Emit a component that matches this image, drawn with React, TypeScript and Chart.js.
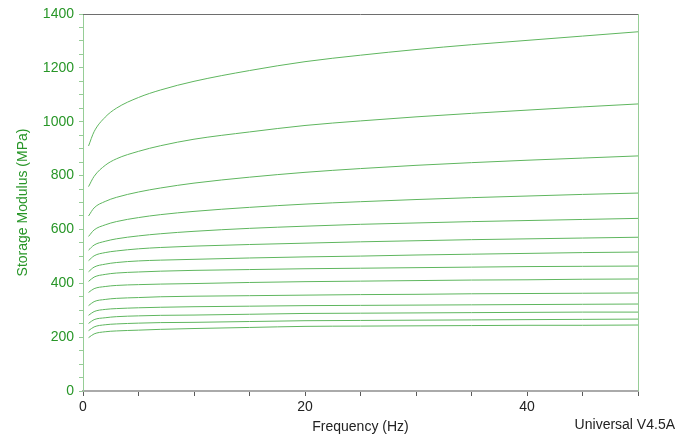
import React, { useEffect, useRef } from "react";
import { Chart, registerables } from "chart.js";

Chart.register(...registerables);

// Frequency (Hz)
const frequencies = [0.5, 1, 2, 3, 5, 7, 10, 15, 20, 25, 30, 35, 40, 45, 50];

// Storage modulus (MPa), one curve per run, top to bottom
const curve1 = [910, 963, 1017, 1050, 1090, 1118, 1150, 1190, 1223, 1247, 1268, 1286, 1302, 1318, 1334];
const curve2 = [759, 797, 838, 862, 890, 911, 935, 962, 986, 1003, 1018, 1031, 1043, 1055, 1066];
const curve3 = [650, 680, 704, 719, 739, 754, 772, 794, 812, 826, 838, 848, 857, 865, 873];
const curve4 = [574, 598, 617, 629, 644, 655, 667, 682, 694, 703, 711, 718, 724, 730, 735];
const curve5 = [523, 542, 556, 565, 576, 584, 593, 604, 612, 619, 624, 629, 633, 637, 641];
const curve6 = [484, 502, 514, 520, 528, 533, 538, 544, 549, 554, 558, 562, 565, 568, 571];
const curve7 = [443, 460, 471, 477, 483, 486, 489, 494, 498, 501, 505, 508, 511, 514, 516];
const curve8 = [407, 423, 433, 438, 442, 445, 448, 451, 454, 456, 458, 460, 462, 463, 464];
const curve9 = [366, 380, 388, 392, 395, 397, 399, 403, 406, 408, 410, 412, 413, 415, 416];
const curve10 = [317, 332, 340, 344, 347, 350, 352, 354, 356, 358, 359, 361, 362, 363, 364];
const curve11 = [281, 295, 303, 306, 309, 311, 313, 315, 317, 318, 319, 320, 321, 322, 323];
const curve12 = [251, 265, 272, 276, 279, 281, 282, 285, 288, 289, 290, 291, 292, 293, 293];
const curve13 = [224, 238, 246, 249, 252, 254, 255, 258, 261, 262, 263, 264, 265, 266, 267];
const curve14 = [198, 212, 220, 223, 226, 229, 232, 236, 240, 241, 242, 243, 244, 244, 245];

const curves = [
  curve1, curve2, curve3, curve4, curve5, curve6, curve7,
  curve8, curve9, curve10, curve11, curve12, curve13, curve14,
];

const xLabelValues = [0, 20, 40];
const yLabelValues = [0, 200, 400, 600, 800, 1000, 1200, 1400];

const xTitle = "Frequency (Hz)";
const yTitle = "Storage Modulus (MPa)";
const footnote = "Universal V4.5A";

const GREEN_TEXT = "rgb(40,150,40)";
const LINE_GREEN = "rgb(95,182,95)";
const AXIS_GREEN = "rgb(150,205,150)";
const FONT = "'Liberation Sans', Arial, sans-serif";

const framePlugin = {
  id: "frame",
  afterDraw(chart: any) {
    const { ctx, chartArea } = chart;
    const { left, right, top, bottom } = chartArea;
    ctx.save();
    ctx.strokeStyle = "rgb(110,110,110)";
    ctx.lineWidth = 1;
    ctx.beginPath();
    ctx.moveTo(left, Math.round(top) + 0.5);
    ctx.lineTo(right, Math.round(top) + 0.5);
    ctx.stroke();
    ctx.strokeStyle = AXIS_GREEN;
    ctx.beginPath();
    ctx.moveTo(Math.round(right) + 0.5, top);
    ctx.lineTo(Math.round(right) + 0.5, bottom);
    ctx.stroke();
    ctx.fillStyle = "#222";
    ctx.font = `14px ${FONT}`;
    ctx.textAlign = "right";
    ctx.textBaseline = "middle";
    ctx.fillText(footnote, 675, 425);
    ctx.restore();
  },
};

export default function App() {
  const canvasRef = useRef<HTMLCanvasElement | null>(null);

  useEffect(() => {
    if (!canvasRef.current) return;
    const chart = new Chart(canvasRef.current, {
      type: "line",
      data: {
        datasets: curves.map((c, i) => ({
          label: `curve${i + 1}`,
          data: c.map((v, j) => ({ x: frequencies[j], y: v })),
          borderColor: LINE_GREEN,
          borderWidth: 1,
          pointRadius: 0,
          fill: false,
          cubicInterpolationMode: "monotone" as const,
        })),
      },
      options: {
        animation: false,
        responsive: false,
        maintainAspectRatio: false,
        layout: { padding: { left: 0, right: 40, top: 14, bottom: 0 } },
        plugins: {
          legend: { display: false },
          tooltip: { enabled: false },
        },
        scales: {
          x: {
            type: "linear",
            min: 0,
            max: 50,
            afterFit: (s: any) => {
              s.height = 47;
            },
            ticks: {
              stepSize: 5,
              autoSkip: false,
              maxRotation: 0,
              padding: 3,
              color: "#222",
              font: { family: FONT, size: 14 },
              callback: (v: any) => (xLabelValues.includes(Number(v)) ? String(v) : ""),
            },
            grid: {
              drawOnChartArea: false,
              drawTicks: true,
              tickLength: 5,
              tickColor: "rgb(90,90,90)",
            },
            border: { color: "rgb(170,170,170)", width: 2 },
            title: {
              display: true,
              text: xTitle,
              color: "#222",
              font: { family: FONT, size: 14 },
              padding: { top: 0, bottom: 2 },
            },
          },
          y: {
            type: "linear",
            min: 0,
            max: 1400,
            afterFit: (s: any) => {
              s.width = 83;
            },
            ticks: {
              stepSize: 50,
              autoSkip: false,
              padding: 5,
              color: GREEN_TEXT,
              font: { family: FONT, size: 14 },
              callback: (v: any) => (yLabelValues.includes(Number(v)) ? String(v) : ""),
            },
            grid: {
              drawOnChartArea: false,
              drawTicks: true,
              tickLength: 4,
              tickColor: AXIS_GREEN,
            },
            border: { color: AXIS_GREEN, width: 1 },
            title: {
              display: true,
              text: yTitle,
              color: GREEN_TEXT,
              font: { family: FONT, size: 14 },
              padding: { top: 15, bottom: 0 },
            },
          },
        },
      },
      plugins: [framePlugin],
    });
    return () => chart.destroy();
  }, []);

  return (
    <div style={{ position: "absolute", left: 0, top: 0, width: 678, height: 438, background: "#fff" }}>
      <canvas ref={canvasRef} width={678} height={438} style={{ width: 678, height: 438 }} />
    </div>
  );
}
